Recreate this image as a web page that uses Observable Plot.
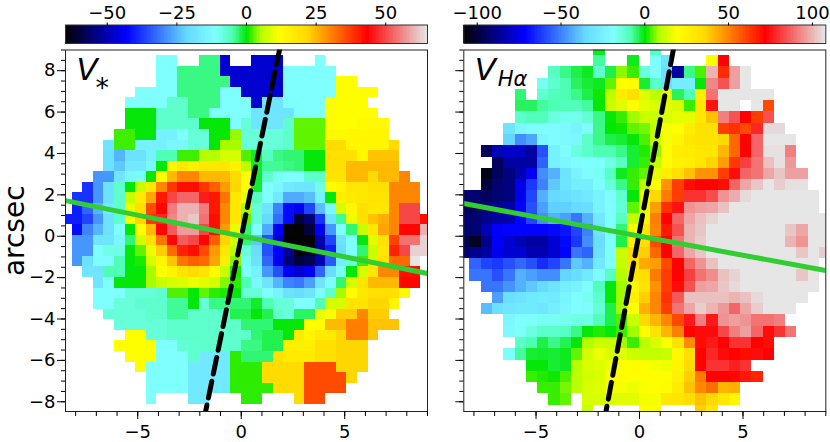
<!DOCTYPE html>
<html>
<head>
<meta charset="utf-8">
<script src="https://cdn.jsdelivr.net/npm/d3@7"></script>
<script src="https://cdn.jsdelivr.net/npm/@observablehq/plot@0.6"></script>
<style>
  html, body { margin: 0; background: #fff; }
  #fig { position: relative; width: 830px; height: 442px; overflow: hidden; }
  #fig svg { position: absolute; overflow: visible; background: none; }
</style>
</head>
<body>
<div id="fig"></div>
<script>
const _ = null

// sauron style colormap, fractions of the range and their colours
const mapStops = [0, 43.5, 86, 106, 118.5, 128.5, 138.5, 151, 171, 213.5, 256].map(d => d / 256)
const mapColors = ['#030303', '#0000ff', '#66d9ff', '#80ffff', '#4dffb3', '#00e600', '#b3ff00', '#ffff00', '#ffd900', '#ff0000', '#e6e6e6']

// stellar velocity, first filled column of each row and the row values
const starFirst = [0, 9, 9, 9, 7, 6, 6, 6, 5, 4, 4, 4, 3, 2, 1, 1, 0, 1, 1, 1, 1, 2, 3, 3, 3, 4, 5, 6, 5, 6, 7, 8, 8, 8]
const starRows = [
  [],
  [-11,-11,_,_,-3.5,-3.5,-47,_,_,-47,-47,-47,_,_,_,-11],
  [-11,-11,-3.5,-3.5,-3.5,-3.5,-47,-47,-47,-47,-47,-47,-11,-11,-11,-11,-11],
  [-11,-11,-3.5,-3.5,-3.5,-3.5,-3.5,-47,-47,-47,-47,-47,-11,-11,-11,-11,-11,12,12],
  [-11,-11,-11,-11,-3.5,-3.5,-3.5,-3.5,-11,-11,-47,-47,-47,-47,-11,-11,-11,-11,-11,12,12,12,12],
  [-11,-11,-11,-11,-7,-7,-3.5,-3.5,-3.5,-11,-11,-11,-47,-18,-18,-11,-11,-11,-11,12,12,12,12],
  [0,0,0,-7,-7,-7,-3.5,-3.5,-11,-11,-11,-11,-18,-18,-18,-18,-11,-11,-11,12,12,12,12,12],
  [0,0,0,-7,-7,-7,-7,0,0,0,-11,-8,-18,-18,-18,-7,3,3,3,12,12,12,13,13,13],
  [2,2,0,0,-15,-15,-11,-8,-8,0.5,0.5,4.5,-8,-8,-8,-8,-7,3,3,3,13,13,14,14,14,14],
  [-18,2,2,-15,-15,-15,-13,-13,-8,-8,0,5,5,-8,-8,-8,-8,-7,3,3,3,21,21,14,14,14,14,21],
  [-19,-25,-19,-19,-15,-5,-5,2,2,5.5,5.5,8,8,2.5,-1,-6,-3.5,-3,-3,0,0,20,20,20,14,24,24,24],
  [-19,-23,-17,-17,-13,0,14,18,16,18,18,18,15,6,-1,-4,-4,-3.5,-3,0,0,20,20,25,25,25,25,25],
  [-28,-28,-18,-13,-10,0.5,12,25,30,30,25,25,25,21,12,-1,-7,-10,-11,-11,-7,-7,19,19,25,25,21,25,25,30],
  [-38,-28,-19,-7,0,7,18,30,38,42,42,38,34,28,22,12,-1,-11,-13,-17,-18,-18,-9,12,14,18,18,20,20,30,30,30],
  [-38,-38,-28,-19,-7,7,17,27,41,50,53,53,46,41,32,18,10,-6,-11,-17,-26,-26,-24,-15,0,16,17,18,19,19,30,30,30],
  [-40,-33,-25,-17,-7,10,20,36,43,55,60,60,55,41,30,18,5,-8,-18,-30,-42,-44,-36,-24,-13,8,14,20,18,18,30,50,50],
  [-40,-40,-36,-28,-19,-7,11,22,38,47,56,60,62,54,42,30,18,3,-8,-21,-32,-42,-60,-55,-38,-19,-4,10,20,24,26,30,50,50,42],
  [-42,-30,-25,-19,-11,0,12,25,43,52,58,58,50,42,28,10,-3,-11,-26,-44,-64,-65,-60,-44,-28,-11,-3,7,18,27,30,43,43,60],
  [-28,-28,-18,-18,-13,-3,8,20,32,44,52,50,44,34,22,8,-3,-23,-35,-48,-65,-65,-65,-50,-36,-19,-11,0,9,20,37,54,54,63],
  [-28,-28,-11,-9,-9,0,3,10,23,33,40,42,36,28,18,6,-8,-20,-35,-43,-52,-64,-62,-52,-40,-20,-11,-3,7,18,40,50,63,63],
  [-28,-19,-12,-12,-5,0,1,8,14,24,32,34,33,27,16,4,-10,-19,-33,-44,-55,-60,-58,-50,-34,-16,-8,2,8,20,33,33,65],
  [-18,-18,-5,-5,0,0,5,12,15,19,21,19,13,7,1,-11,-15,-28,-35,-44,-47,-44,-33,-20,-10,0,8,18,30,30,42,42],
  [-18,-11,0,0,0.5,5,7,8,8.5,10,9,8,4,1.5,-5,-13,-18,-25,-30,-31,-27,-18,-12,-3,8,19,25,25,25,43,43],
  [-11,-11,-11,-8,-8,-8,-7,2.5,2.5,0,3,1.5,1,0,-8,-8,-11,-14,-19,-20,-18,-12,-7,5,12,18,20,20,20,13],
  [-11,-11,-8,-8,-7,-7,-7,-4,-4,0,-8,-3.5,-3.5,-3,-3,-1,-5,-8,-8,-11,-11,-5,8,8,19,19,22,22,14],
  [-8,-8,-8,-8,-7,-7,-4,-4,-7,-7,-7,-7,-2,-2,0,-2,-7,-8,-2.5,-2.5,10,11,23,23,30,23,23],
  [-8,-8,-8,-8,-8,-7,-7,-7,-7,-7,-7,-7,-3,-3,-3,0,0,0,12,12,25,25,31,31,24,24,24],
  [12,12,-8,-8,-7,-7,-7,-7,-7,-7,-7,-7,-3,-2,-2,0,17,14,17,17,22,31,31,24],
  [12,12,12,12,-11,-11,-7.5,-7.5,-7,-7,-7,-7,-3.5,-3.5,-2,-2,16,16,16,20,20,22,22,22],
  [12,12,12,-11,-11,-11,-7,-17,-17,-17,1.5,-3,-3,-3,20,17,17,17,20,20,22,22,22],
  [12,-11,-11,-11,-11,-17,-17,-17,-17,1.5,1.5,1.5,21,21,21,21,36,36,36,22,22,22],
  [-11,-11,-11,-11,-17,-17,-17,-17,1.5,1.5,1.5,21,21,21,21,36,36,36,36,22],
  [-11,-11,-11,-11,-17,-17,-17,-17,1.5,1.5,1.5,1.5,21,21,21,36,36,36,36],
  [-11,_,_,_,-17,-17,_,_,_,1.5,1.5,_,_,_,21,36,36]
]

// H-alpha velocity, same layout on its own coarser grid
const gasFirst = [12, 12, 8, 7, 5, 5, 5, 4, 4, 2, 3, 2, 2, 0, 0, 0, 0, 0, 0, 1, 1, 2, 3, 2, 4, 4, 5, 4, 6, 6, 7, 8, 11]
const gasRows = [
  [-1,_,_,_,_,-10],
  [-7,_,_,-1,_,-19,-30,_,_,_,20,72],
  [-10,-6,-3,-1,-12,-3,7,3,-14,-19,-32,-85,-6,4,100,65,97,108],
  [-17,-12,-8,-4,-2,-1,5,20,21,-2,-11,-32,-26,-26,0,93,85,97,108],
  [-5,_,-12,-9,-8,-6,-3,1,10,28,33,15,10,15,-4,-9,28,90,108,108,108,108,108],
  [-4,-4,-7,-8,-9,-9,-7,0,12,15,21,16,14,15,14,3,30,75,108,108,_,108,60],
  [-11,-9,-9,-14,-16,-16,-13,-6,0,3,8,12,12,14,16,16,30,40,92,85,72,62,85],
  [-30,-22,-20,-19,-20,-21,-23,-20,-6,0.5,1,5,6,10,18,20,28,32,32,62,64,60,78,106,106],
  [-36,-48,-44,-22,-20,-21,-22,-11,-6,-3,-2,0,4,12,18,24,30,32,32,36,55,72,88,108,108,108],
  [-95,-82,-79,-80,-85,-58,-25,-19,-14,-11,-8,-8,-6,-2,2,7,20,27,28,30,30,42,55,72,88,107,107,92],
  [-95,-85,-85,-85,-55,-25,-22,-20,-19,-19,-15,-10,-2,3,11,20,25,26,30,37,46,63,82,90,102,107,96],
  [-105,-95,-90,-83,-72,-48,-42,-30,-24,-20,-17,-10,-1,3,5,16,27,33,40,48,48,62,74,88,90,98,103,97,97],
  [-100,-92,-90,-75,-62,-50,-38,-30,-26,-26,-19,-13,-6,3,10,20,48,62,70,72,72,70,88,98,103,108,104,107,107],
  [-92,-92,-95,-92,-90,-74,-60,-42,-35,-33,-31,-28,-24,-20,-12,0,18,36,52,62,80,80,84,95,99,106,108,108,108,108,108,108],
  [-95,-95,-90,-88,-85,-71,-58,-45,-37,-37,-34,-33,-24,-19,-13,5,16,46,64,75,95,97,98,102,108,108,108,108,108,108,108,108],
  [-92,-92,-88,-85,-83,-71,-60,-48,-42,-45,-52,-42,-28,-19,-10,11,22,51,72,88,98,102,105,108,108,108,108,108,108,108,108,108,108],
  [-92,-92,-82,-72,-71,-71,-71,-71,-70,-68,-60,-50,-30,-19,-5,18,30,50,68,85,100,103,108,108,108,108,108,108,108,103,98,108,108],
  [-96,-103,-88,-72,-78,-82,-85,-85,-78,-70,-62,-48,-33,-19,-3,25,33,60,72,90,100,104,108,108,108,108,108,108,108,100,95,108,108],
  [-92,-88,-85,-74,-78,-78,-83,-83,-78,-71,-52,-55,-32,-18,12,36,38,55,72,88,98,103,108,108,108,108,108,108,108,108,103,108,104],
  [-55,-60,-62,-58,-54,-58,-64,-60,-52,-38,-42,-28,-18,11,33,44,46,60,72,88,95,102,108,108,108,108,108,108,108,108,108],
  [-52,-52,-58,-52,-42,-45,-48,-48,-36,-33,-28,-20,-10,9,30,34,52,62,72,82,90,94,102,105,108,108,108,108,108,103,108],
  [-52,-52,-47,-42,-38,-34,-30,-26,-24,-19,-9,0,8,24,32,48,62,74,85,97,98,103,106,108,108,108,108,108,108,108],
  [-45,-32,-30,-28,-27,-28,-23,-19,-17,-11,0,8,26,38,50,64,86,102,102,102,102,100,102,106,108,108,108,108],
  [-40,-32,-29,-28,-28,-29,-26,-22,-19,-20,-13,-3,8,20,43,50,62,90,98,104,100,96,88,98,104,108,108,108],
  [-22,-19,-18,-17,-17,-16,-15,-15,-9,-3,4,12,36,42,50,60,76,92,76,95,97,95,90,90,92],
  [-21,-18,-14,-11,-11,-10,-6,0,2,0,3,8,20,32,42,51,72,74,74,83,92,97,88,74,80,90],
  [-11,-8,-3,-6,-3.5,0,9,12,12,8,3,10,14,20,32,49,70,76,72,80,80,72,70],
  [-18,-7,-2,-1.5,-2,-1,5,13,17,14,15,12,11,11,12,22,33,72,78,74,72,70,74,72],
  [0,0,-2,-1,9,14,15,17,19,20,19,18,17,24,35,72,80,80,77,80],
  [3,2,1,4,10,13,14,19,20,20,20,20,19,25,38,52,72,72,71,68,66],
  [3,3,6,10,14,15,18,18,17,19,20,21,28,40,50,54,42,43],
  [3,5,_,14,14,14,15,15,18,18,30,31,34,40,36,30,23],
  [12,_,_,_,_,19,19,_,_,_,38,30]
]

// axis ticks
const xMajor = [-5, 0, 5]
const xMinor = d3.range(-8, 10)
const yMajor = [-8, -6, -4, -2, 0, 2, 4, 6, 8]
const yMinor = d3.range(-8, 9.5, 0.5)
const starBarTicks = [-50, -25, 0, 25, 50]
const gasBarTicks = [-100, -50, 0, 50, 100]

// the two position angle lines of each panel, dashed one drawn from the top
const starDash = [[1.87, 9.1], [-1.72, -8.47]]
const starGreen = [[-8.49, 1.72], [9, -1.8]]
const gasDash = [[1.65, 9.1], [-1.62, -8.47]]
const gasGreen = [[-8.49, 1.58], [9, -1.66]]

const font = '"DejaVu Sans", sans-serif'
const tickFont = 18
const fig = document.getElementById('fig')

function colorScale(vmax) {
  return {
    type: 'linear',
    domain: mapStops.map(t => -vmax + t * 2 * vmax),
    range: mapColors,
    clamp: true,
  }
}

function makeCells(rows, first, grid) {
  return rows.flatMap((row, j) => row.flatMap((v, k) => {
    if (v === null) return []
    let i = first[j] + k
    return [{
      x1: grid.x0 + i * grid.step,
      x2: grid.x0 + (i + 1) * grid.step,
      y1: grid.y0 - j * grid.step,
      y2: grid.y0 - (j + 1) * grid.step,
      v: v,
    }]
  }))
}

function place(svg, left, top) {
  svg.style.left = left + 'px'
  svg.style.top = top + 'px'
  fig.append(svg)
}

function colorBar(vmax, ticks, left, marginLeft, width) {
  let steps = d3.range(256).map(i => ({
    x1: -vmax + i * 2 * vmax / 256,
    x2: -vmax + (i + 1) * 2 * vmax / 256,
  }))
  let chart = Plot.plot({
    marks: [
      Plot.rect(steps, {
        x1: 'x1',
        x2: 'x2',
        fill: d => (d.x1 + d.x2) / 2,
        shapeRendering: 'crispEdges',
      }),
      Plot.frame({ stroke: '#333' }),
      Plot.axisX(ticks, { anchor: 'top', tickSize: 3, tickPadding: 3.5, label: null, fontSize: tickFont }),
    ],
    x: { domain: [-vmax, vmax], axis: null },
    color: colorScale(vmax),
    style: { fontFamily: font, overflow: 'visible' },
    width: width,
    height: 44,
    marginLeft: marginLeft,
    marginRight: width - marginLeft - 362,
    marginTop: 24.5,
    marginBottom: 1,
  })
  place(chart, left, 0)
}

function panel(opts) {
  let marks = [
    Plot.rect(makeCells(opts.rows, opts.first, opts.grid), {
      x1: 'x1',
      x2: 'x2',
      y1: 'y1',
      y2: 'y2',
      fill: 'v',
      clip: true,
      shapeRendering: 'crispEdges',
    }),
    Plot.line(opts.dash, { stroke: 'black', strokeWidth: 5, strokeDasharray: '17,7.3', clip: true }),
    Plot.line(opts.green, { stroke: '#32cd32', strokeWidth: 5, clip: true }),
    Plot.frame({ stroke: '#222' }),
    Plot.axisX(xMinor, { tickSize: 5, tickFormat: () => '', label: null }),
    Plot.axisX(xMajor, { tickSize: 8, tickPadding: 6, label: null, fontSize: tickFont }),
    Plot.axisY(yMinor, { tickSize: 4, tickFormat: () => '', label: null }),
    Plot.axisY(yMajor, {
      tickSize: 8,
      tickPadding: 2,
      label: null,
      fontSize: tickFont,
      tickFormat: opts.yLabels ? undefined : () => '',
    }),
    Plot.text(['V'], {
      frameAnchor: 'top-left',
      lineAnchor: 'bottom',
      dx: 11,
      dy: 29.5,
      fontSize: 31,
      fontStyle: 'italic',
    }),
    Plot.text([opts.sub], {
      frameAnchor: 'top-left',
      lineAnchor: 'bottom',
      dx: opts.subX,
      dy: opts.subY,
      fontSize: opts.subSize,
      fontStyle: opts.subStyle,
    }),
  ]
  if (opts.yLabels) {
    marks.push(Plot.text(['arcsec'], {
      frameAnchor: 'left',
      textAnchor: 'middle',
      dx: -50,
      rotate: -90,
      fontSize: 28,
    }))
  }
  let chart = Plot.plot({
    marks: marks,
    x: { domain: [-8.49, 9], axis: null },
    y: { domain: [-8.47, 9], axis: null },
    color: colorScale(opts.vmax),
    style: { fontFamily: font, overflow: 'visible' },
    width: opts.width,
    height: 398,
    marginLeft: opts.marginLeft,
    marginRight: opts.width - opts.marginLeft - 362,
    marginTop: 5.5,
    marginBottom: 31,
  })
  place(chart, opts.left, 44)
}

colorBar(65, starBarTicks, 0, 65, 445)
colorBar(108, gasBarTicks, 445, 18.3, 385)

panel({
  rows: starRows,
  first: starFirst,
  grid: { x0: -8.676, y0: 9.24, step: 0.5106 },
  dash: starDash,
  green: starGreen,
  vmax: 65,
  left: 0,
  width: 445,
  marginLeft: 65,
  yLabels: true,
  sub: '*',
  subX: 30,
  subY: 47,
  subSize: 27,
  subStyle: 'normal',
})
panel({
  rows: gasRows,
  first: gasFirst,
  grid: { x0: -8.74, y0: 9.274, step: 0.5449 },
  dash: gasDash,
  green: gasGreen,
  vmax: 108,
  left: 445,
  width: 385,
  marginLeft: 18.3,
  yLabels: false,
  sub: 'Hα',
  subX: 34,
  subY: 36,
  subSize: 21,
  subStyle: 'italic',
})
</script>
</body>
</html>
